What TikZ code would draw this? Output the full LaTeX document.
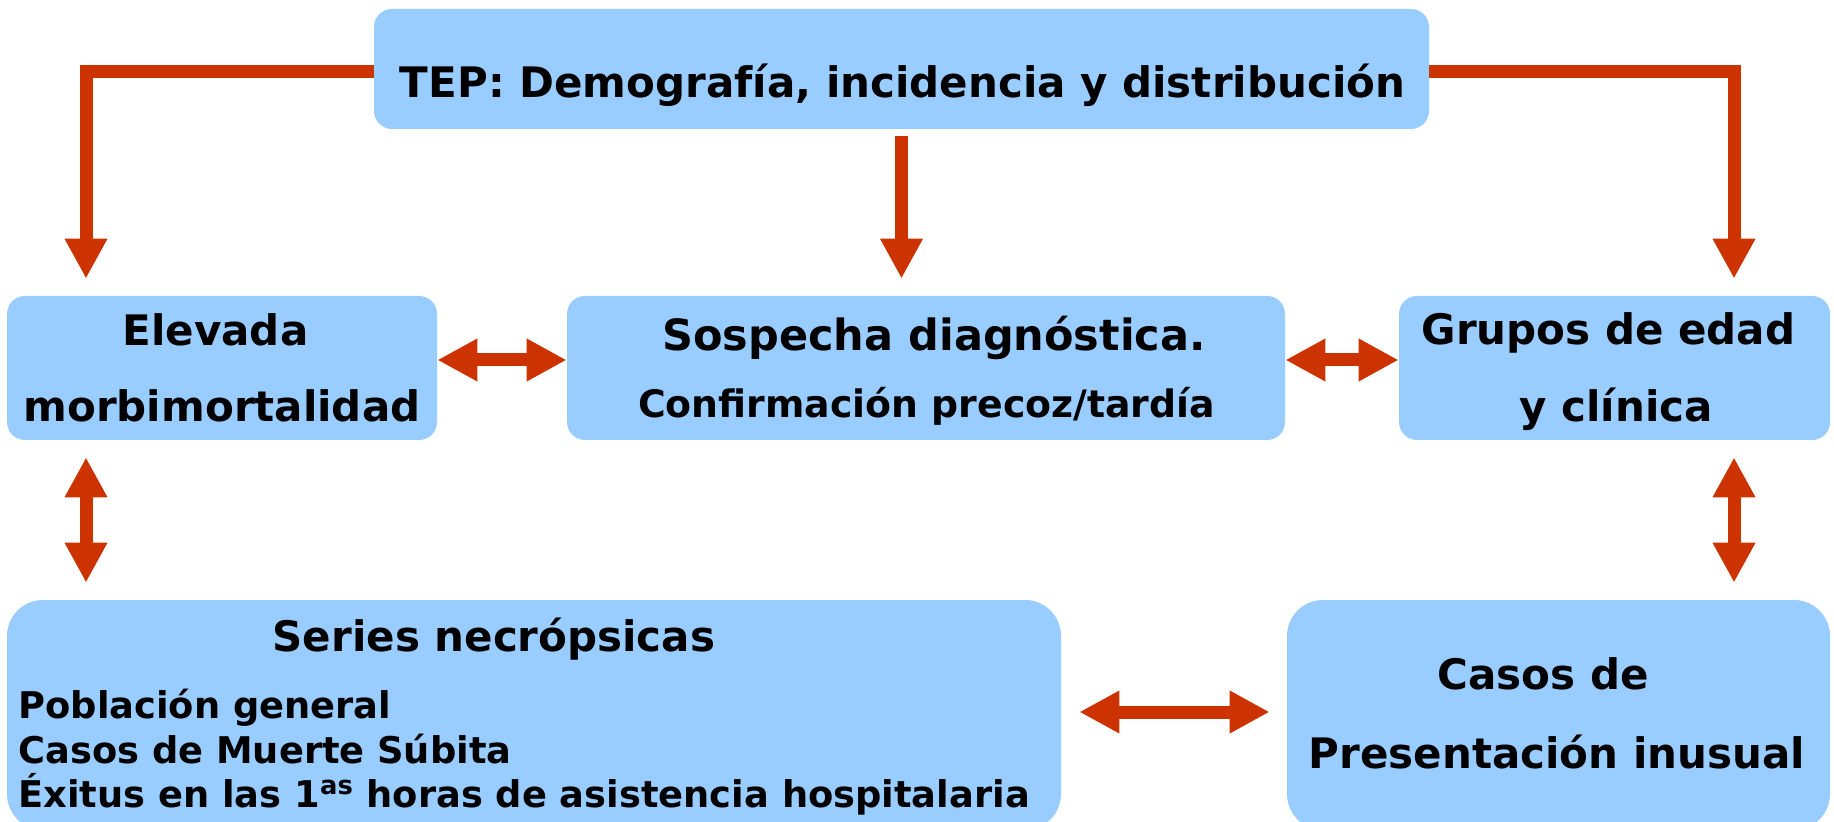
\documentclass[tikz,border=0pt]{standalone}
\usepackage{fontspec}
\setmainfont{DejaVu Sans}
\usetikzlibrary{arrows.meta,calc}
\definecolor{boxblue}{HTML}{99CCFF}
\definecolor{arr}{HTML}{CC3300}
\begin{document}
\begin{tikzpicture}[x=0.5pt,y=-0.5pt,
  box/.style={fill=boxblue, draw=none, rounded corners=9pt, inner sep=0pt},
  bigbox/.style={box, rounded corners=18pt},
  big/.style={font=\fontsize{21}{25}\selectfont\bfseries, anchor=base, inner sep=0pt},
  small/.style={font=\fontsize{18.9}{22}\selectfont\bfseries, anchor=base, inner sep=0pt},
  smallw/.style={font=\fontsize{18.4}{22}\selectfont\bfseries, inner sep=0pt, anchor=base west},
  conn/.style={draw=arr, line width=6.5pt},
  onetip/.style={conn, -{Triangle[length=20pt,width=20pt]}},
  twotip/.style={conn, {Triangle[length=20pt,width=20pt]}-{Triangle[length=20pt,width=20pt]}}]
\clip (0,0) rectangle (1834,822);
\fill[white] (0,0) rectangle (1834,822);
% boxes
\node[box, minimum width=527.5pt, minimum height=60pt] (top) at (901.5,69) {};
\node[box, minimum width=215pt, minimum height=72pt] (elev) at (222,368) {};
\node[box, minimum width=359pt, minimum height=72pt] (sosp) at (926,368) {};
\node[box, minimum width=215.5pt, minimum height=72pt] (grup) at (1614.5,368) {};
\node[bigbox, minimum width=527pt, minimum height=115pt] (series) at (534,715) {};
\node[bigbox, minimum width=271.5pt, minimum height=115pt] (casos) at (1558.5,715) {};
% texts
\node[big] (t1) at (902.5,98) {TEP: Demografía, incidencia y distribución};
\node[big] (t2) at (215.5,346) {Elevada};
\node[big] (t3) at (222,422) {morbimortalidad};
\node[big, font=\fontsize{21.5}{25}\selectfont\bfseries] (t4) at (934,351) {Sospecha diagnóstica.};
\node[small] (t5) at (926.5,418) {Confirmación precoz/tardía};
\node[big] (t6) at (1608.5,345) {Grupos de edad};
\node[big] (t7) at (1616,422) {y clínica};
\node[big] (t8) at (494,651) {Series necrópsicas};
\node[smallw] (t9) at (18,718) {Población general};
\node[smallw] (t10) at (18,763) {Casos de Muerte Súbita};
\node[smallw] (t11) at (18,807) {Éxitus en las 1\textsuperscript{as} horas de asistencia hospitalaria};
\node[big] (t12) at (1543,689) {Casos de};
\node[big] (t13) at (1557,768) {Presentación inusual};
% connectors
\coordinate (lx) at (86,72);
\coordinate (rx) at (1734,72);
\coordinate (by) at (0,712);
\draw[onetip] (top.west |- lx) -- (lx) -- ($(elev.north -| lx)+(0,-17)$);
\draw[onetip] (top.east |- rx) -- (rx) -- ($(grup.north -| rx)+(0,-17)$);
\draw[onetip] ($(top.south)+(0,7)$) -- ($(sosp.north -| top.south)+(0,-17)$);
\draw[twotip] ([yshift=4pt]elev.east) -- ([yshift=4pt]sosp.west);
\draw[twotip] ([yshift=4pt]sosp.east) -- ([yshift=4pt]grup.west);
\draw[twotip] ($(elev.south -| lx)+(0,17)$) -- ($(series.north -| lx)+(0,-17)$);
\draw[twotip] ($(grup.south -| rx)+(0,17)$) -- ($(casos.north -| rx)+(0,-17)$);
\draw[twotip] ($(series.east |- by)+(18,0)$) -- ($(casos.west |- by)+(-17,0)$);
\end{tikzpicture}
\end{document}
